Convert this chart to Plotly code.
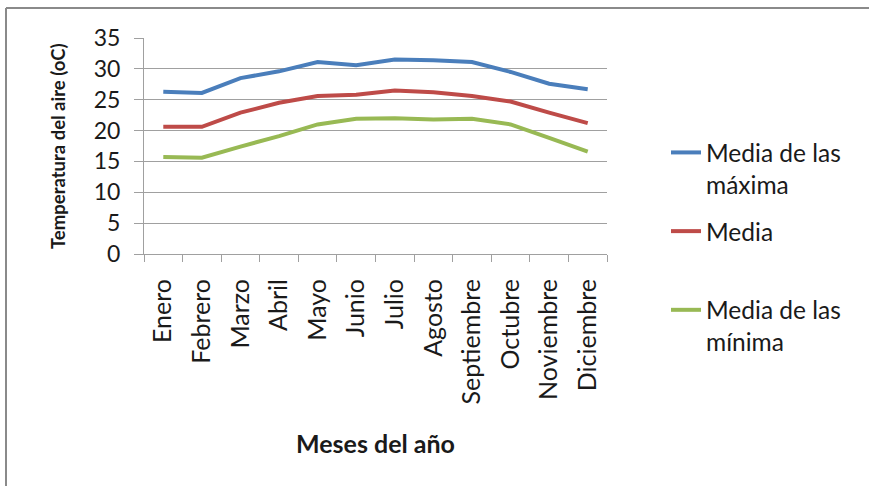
import plotly.graph_objects as go

W, H = 869, 486

meses = ["Enero", "Febrero", "Marzo", "Abril", "Mayo", "Junio", "Julio",
         "Agosto", "Septiembre", "Octubre", "Noviembre", "Diciembre"]
media_maxima = [26.3, 26.1, 28.5, 29.6, 31.1, 30.6, 31.5, 31.4, 31.1, 29.5, 27.6, 26.7]
media = [20.6, 20.6, 22.9, 24.5, 25.6, 25.8, 26.5, 26.2, 25.6, 24.7, 22.9, 21.2]
media_minima = [15.7, 15.6, 17.4, 19.1, 21.0, 21.9, 22.0, 21.8, 21.9, 21.0, 18.8, 16.6]

series_names = ["Media de las<br>máxima", "Media<br> ", "Media de las<br>mínima"]
series_values = [media_maxima, media, media_minima]
series_colors = ["#4A7EBB", "#BE4B48", "#98B954"]

y_ticks = [0, 5, 10, 15, 20, 25, 30, 35]

FONT = "Lato"
TXT = "#1a1a1a"
GRID = "#a0a0a0"

fig = go.Figure()
for name, vals, col in zip(series_names, series_values, series_colors):
    fig.add_trace(go.Scatter(
        x=meses, y=vals, name=name, mode="lines",
        line=dict(color=col, width=4), legendgroup=name,
    ))

def px_x(p):
    return p / W

def px_y(p):
    return 1 - p / H

fig.update_layout(
    width=W, height=H,
    margin=dict(l=0, r=0, t=0, b=0),
    paper_bgcolor="white", plot_bgcolor="white",
    font=dict(family=FONT, color=TXT, size=23),
    showlegend=True,
    legend=dict(
        x=px_x(666), y=px_y(130), xanchor="left", yanchor="top",
        font=dict(family=FONT, size=24.5, color=TXT),
        valign="top", tracegroupgap=12, bgcolor="rgba(0,0,0,0)",
    ),
    xaxis=dict(
        domain=[px_x(144), px_x(607)],
        range=[-0.5, len(meses) - 0.5],
        showline=True, linecolor=GRID, linewidth=1,
        ticks="outside", ticklen=7, tickcolor=GRID, tickson="boundaries",
        showgrid=False, tickangle=-90, ticklabelstandoff=14,
        tickfont=dict(family=FONT, size=25, color=TXT),
        automargin=False,
    ),
    yaxis=dict(
        domain=[px_y(254), px_y(38)],
        range=[0, 35], tickvals=y_ticks,
        showline=True, linecolor=GRID, linewidth=1,
        ticks="outside", ticklen=9, tickcolor=GRID,
        showgrid=True, gridcolor=GRID, gridwidth=1,
        zeroline=False, ticklabelstandoff=9,
        tickfont=dict(family=FONT, size=23, color=TXT),
        automargin=False,
    ),
    annotations=[
        dict(text="<b>Meses del año</b>", x=px_x(375), y=px_y(443),
             xref="paper", yref="paper", showarrow=False,
             xanchor="center", yanchor="middle",
             font=dict(family=FONT, size=25, color=TXT)),
        dict(text="<b>Temperatura del aire (oC)</b>", x=px_x(58), y=px_y(146),
             xref="paper", yref="paper", showarrow=False, textangle=-90,
             xanchor="center", yanchor="middle",
             font=dict(family=FONT, size=18.5, color=TXT)),
    ],
    shapes=[
        dict(type="line", xref="paper", yref="paper",
             x0=px_x(6), x1=1, y0=px_y(8), y1=px_y(8),
             line=dict(color="#8a8a8a", width=2)),
        dict(type="line", xref="paper", yref="paper",
             x0=px_x(6), x1=px_x(6), y0=0, y1=px_y(8),
             line=dict(color="#8a8a8a", width=2)),
    ],
)

fig.write_html("out.html")
